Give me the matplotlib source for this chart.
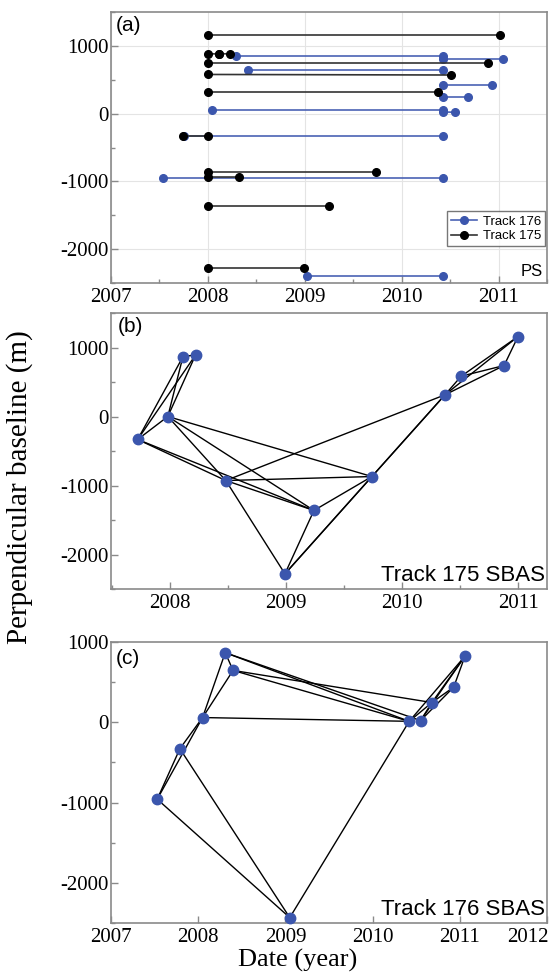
import numpy as np
import matplotlib.pyplot as plt
import matplotlib.transforms as mtrans
from matplotlib.ticker import MultipleLocator

# ---- panel (a): PS pairs, one segment per interferogram ----
t176_start = [2008.29, 2010.43, 2008.41, 2010.43, 2010.43, 2008.04, 2010.43, 2007.75, 2007.54, 2009.02]
t176_end = [2010.43, 2011.05, 2010.43, 2010.93, 2010.68, 2010.43, 2010.55, 2010.43, 2010.43, 2010.43]
t176_bp_start = [853, 813, 637, 426, 240, 49, 25, -328, -946, -2401]
t176_bp_end = [853, 813, 637, 426, 240, 49, 20, -328, -946, -2401]

t175_start = [2008.0, 2008.0, 2008.11, 2008.0, 2008.0, 2008.0, 2007.74, 2008.0, 2008.0, 2008.0, 2008.0]
t175_end = [2011.01, 2008.11, 2008.23, 2010.89, 2010.51, 2010.38, 2008.0, 2009.74, 2008.32, 2009.25, 2008.99]
t175_bp_start = [1166, 885, 880, 750, 578, 319, -328, -868, -936, -1368, -2279]
t175_bp_end = [1166, 880, 885, 750, 570, 319, -328, -868, -936, -1368, -2279]

# ---- panel (b): Track 175 SBAS network ----
b_dates = [2007.72, 2007.98, 2008.11, 2008.22, 2008.48, 2008.99, 2009.24, 2009.74, 2010.37, 2010.51, 2010.88, 2011.00]
b_bperp = [-333, 0, 865, 894, -928, -2280, -1362, -870, 314, 584, 739, 1159]
b_pairs = [(0, 2), (0, 3), (1, 2), (1, 3), (2, 3), (0, 1), (0, 4), (0, 6), (1, 4), (1, 6),
           (1, 7), (4, 6), (4, 7), (4, 5), (4, 8), (6, 7), (6, 5), (7, 5), (7, 8), (5, 8),
           (8, 9), (8, 10), (8, 11), (9, 10), (9, 11), (10, 11)]

# ---- panel (c): Track 176 SBAS network ----
c_dates = [2007.53, 2007.79, 2008.05, 2008.31, 2008.40, 2009.05, 2010.42, 2010.55, 2010.68, 2010.93, 2011.06]
c_bperp = [-958, -329, 59, 867, 646, -2433, 12, 21, 246, 438, 825]
c_pairs = [(0, 1), (0, 2), (1, 2), (2, 3), (2, 4), (3, 4), (3, 6), (3, 7), (4, 6), (4, 8),
           (2, 6), (1, 5), (0, 5), (5, 6), (6, 8), (6, 10), (7, 8), (7, 10), (8, 9), (8, 10),
           (9, 10), (7, 9)]

blue = '#3b56ad'
blue_line = '#4a62b4'
serif = ['Liberation Serif', 'DejaVu Serif']
sans = ['Liberation Sans', 'DejaVu Sans']

fig = plt.figure(figsize=(5.56, 9.74), dpi=100)
L, R = 111 / 556, 547 / 556
ax_a = fig.add_axes([L, 1 - 283 / 974, R - L, (283 - 12) / 974])
ax_b = fig.add_axes([L, 1 - 589 / 974, R - L, (589 - 313) / 974])
ax_c = fig.add_axes([L, 1 - 923 / 974, R - L, (923 - 642) / 974])


def style(ax, xminor, xskip=None):
    for s in ax.spines.values():
        s.set_color('#8a8a8a')
        s.set_linewidth(1.2)
    ax.tick_params(which='both', direction='in', colors='#8a8a8a', labelcolor='black',
                   labelsize=15, width=1)
    ax.tick_params(which='major', length=5)
    ax.tick_params(which='minor', length=3)
    ax.tick_params(axis='y', pad=2)
    ax.yaxis.set_major_locator(MultipleLocator(1000))
    ax.yaxis.set_minor_locator(MultipleLocator(500))
    ax.xaxis.set_major_locator(MultipleLocator(1))
    if xminor:
        ax.xaxis.set_minor_locator(MultipleLocator(0.5))
    ax.xaxis.set_major_formatter(plt.FuncFormatter(
        lambda v, p: '' if xskip is not None and round(v) == xskip else f'{int(round(v))}'))
    ax.yaxis.set_major_formatter(plt.FuncFormatter(lambda v, p: f'{int(round(v))}'))
    for lab in ax.get_xticklabels() + ax.get_yticklabels():
        lab.set_family(serif)


# (a)
for x0, x1, y0, y1 in zip(t176_start, t176_end, t176_bp_start, t176_bp_end):
    ax_a.plot([x0, x1], [y0, y1], '-o', color=blue_line, mfc=blue, mec=blue, ms=5.5, lw=1.2)
for x0, x1, y0, y1 in zip(t175_start, t175_end, t175_bp_start, t175_bp_end):
    ax_a.plot([x0, x1], [y0, y1], '-o', color='#333333', mfc='black', mec='black', ms=5.5, lw=1.2)
ax_a.set_xlim(2007, 2011.5)
ax_a.set_ylim(-2500, 1500)
ax_a.grid(True, which='major', color='#e4e4e4', lw=0.8)
ax_a.set_axisbelow(True)
h1, = ax_a.plot([], [], '-o', color=blue_line, mfc=blue, mec=blue, ms=5.5, lw=1.2)
h2, = ax_a.plot([], [], '-o', color='#333333', mfc='black', mec='black', ms=5.5, lw=1.2)
ax_a.legend([h1, h2], ['Track 176', 'Track 175'], loc='lower right',
            bbox_to_anchor=(0.995, 0.135), prop={'family': sans, 'size': 9.5},
            frameon=True, fancybox=False, edgecolor='#555555', handlelength=2,
            borderpad=0.3, labelspacing=0.2, handletextpad=0.4, borderaxespad=0)
ax_a.text(0.99, 0.015, 'PS', transform=ax_a.transAxes, ha='right', va='bottom',
          fontsize=12, family=sans)
ax_a.text(0.012, 0.985, '(a)', transform=ax_a.transAxes, ha='left', va='top',
          fontsize=15, family=sans)
style(ax_a, True)

# (b)
for i, j in b_pairs:
    ax_b.plot([b_dates[i], b_dates[j]], [b_bperp[i], b_bperp[j]], color='black', lw=1.0)
ax_b.plot(b_dates, b_bperp, 'o', color=blue, ms=7.5, zorder=3)
ax_b.set_xlim(2007.49, 2011.25)
ax_b.set_ylim(-2500, 1500)
ax_b.text(0.995, 0.01, 'Track 175 SBAS', transform=ax_b.transAxes, ha='right', va='bottom',
          fontsize=16, family=sans)
ax_b.text(0.015, 0.985, '(b)', transform=ax_b.transAxes, ha='left', va='top',
          fontsize=15, family=sans)
style(ax_b, True)

# (c)
for i, j in c_pairs:
    ax_c.plot([c_dates[i], c_dates[j]], [c_bperp[i], c_bperp[j]], color='black', lw=1.0)
ax_c.plot(c_dates, c_bperp, 'o', color=blue, ms=7.5, zorder=3, clip_on=False)
ax_c.set_xlim(2007, 2012)
ax_c.set_ylim(-2500, 1000)
ax_c.text(0.995, 0.01, 'Track 176 SBAS', transform=ax_c.transAxes, ha='right', va='bottom',
          fontsize=16, family=sans)
ax_c.text(0.012, 0.975, '(c)', transform=ax_c.transAxes, ha='left', va='top',
          fontsize=15, family=sans)
style(ax_c, False, xskip=2012)
# last year label sits flush with the right edge, as in the source figure
last_tr = mtrans.blended_transform_factory(ax_c.transData, ax_c.transAxes)
ax_c.text(2012.02, -0.0175, '2012', transform=last_tr, ha='right', va='top',
          fontsize=15, family=serif, clip_on=False)

fig.text(20 / 556, 0.5, 'Perpendicular baseline (m)', rotation=90, ha='center', va='center',
         fontsize=21, family=serif)
fig.text(298 / 556, 1 - 960 / 974, 'Date (year)', ha='center', va='center',
         fontsize=19, family=serif)

fig.savefig('out.png', dpi=100)
